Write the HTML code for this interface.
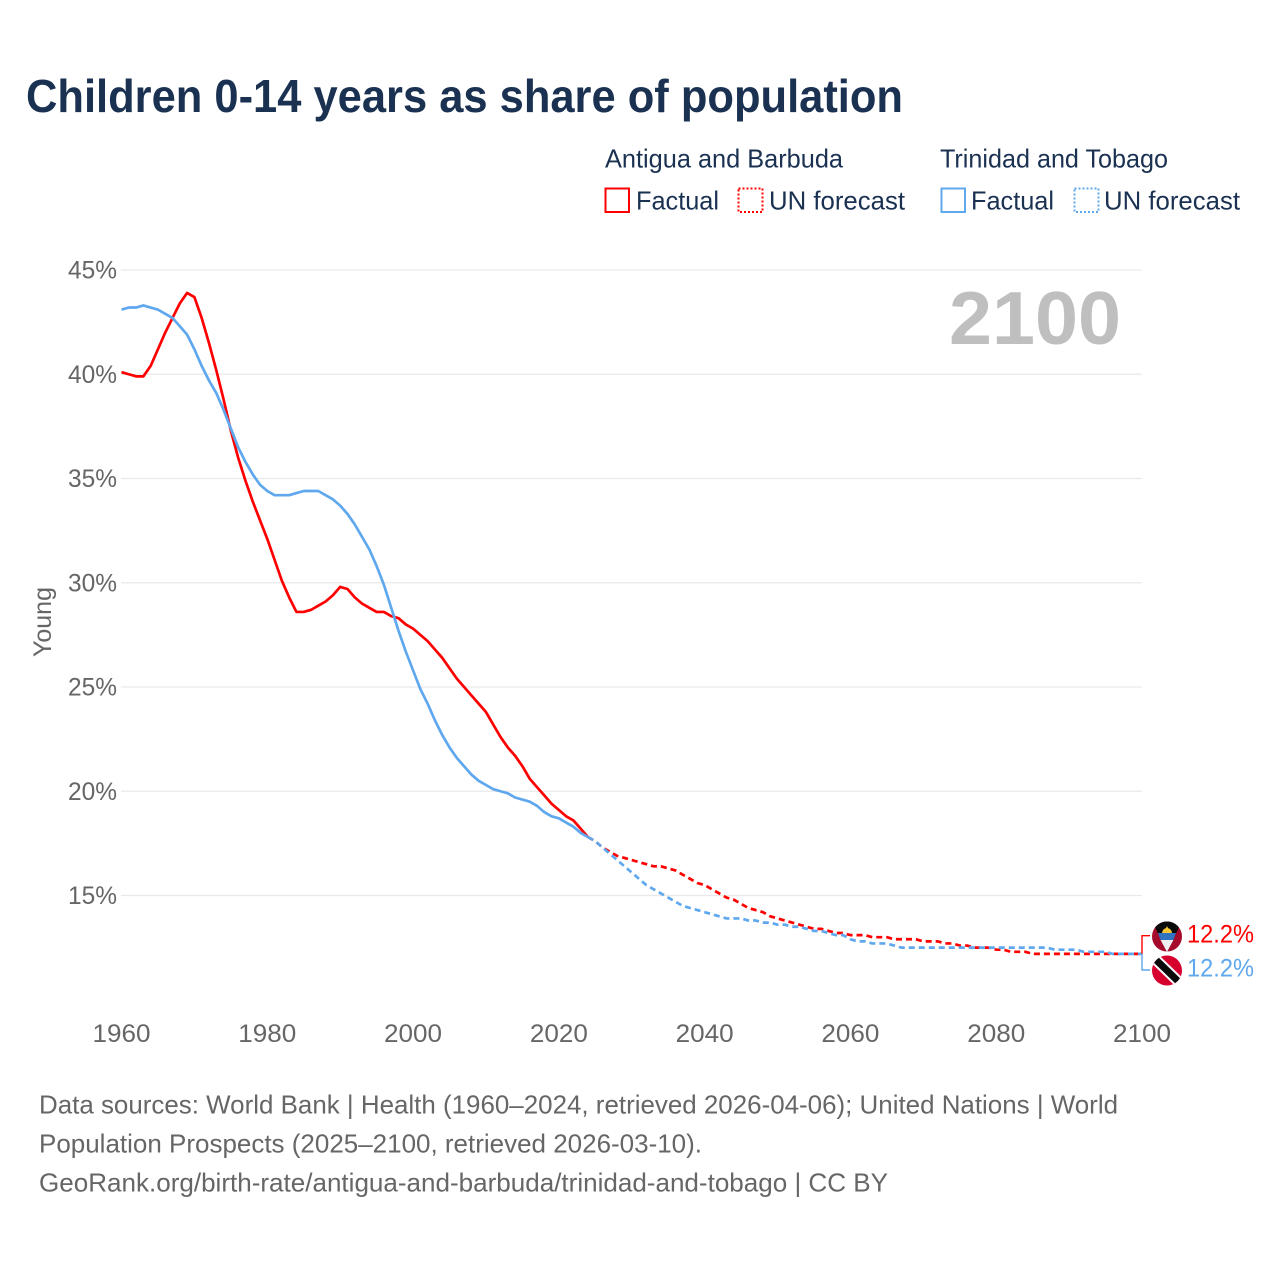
<!DOCTYPE html>
<html lang="en">
<head>
<meta charset="utf-8">
<title>Children 0-14 years as share of population</title>
<style>
html,body{margin:0;padding:0;background:#fff}
svg{display:block}
text{font-family:"Liberation Sans",sans-serif}
</style>
</head>
<body>
<svg id="chart" width="1280" height="1280" viewBox="0 0 1280 1280" xmlns="http://www.w3.org/2000/svg">
  <rect width="1280" height="1280" fill="#fff"/>
  <text x="26" y="112" font-size="46" font-weight="700" fill="#1a3152" textLength="877" lengthAdjust="spacingAndGlyphs">Children 0-14 years as share of population</text>

  <g font-size="26" fill="#1a3152">
    <text x="605" y="167.5" textLength="238" lengthAdjust="spacingAndGlyphs">Antigua and Barbuda</text>
    <text x="940" y="167.5" textLength="228" lengthAdjust="spacingAndGlyphs">Trinidad and Tobago</text>
    <rect x="605.5" y="188.5" width="23.5" height="23.5" fill="none" stroke="#ff0000" stroke-width="2"/>
    <text x="636" y="209.5" textLength="83" lengthAdjust="spacingAndGlyphs">Factual</text>
    <rect x="738.5" y="188.5" width="24" height="23.5" fill="none" stroke="#ff0000" stroke-width="2" stroke-dasharray="2 2"/>
    <text x="769" y="209.5" textLength="136" lengthAdjust="spacingAndGlyphs">UN forecast</text>
    <rect x="941.5" y="188.5" width="23.5" height="23.5" fill="none" stroke="#5fa8ee" stroke-width="2"/>
    <text x="971" y="209.5" textLength="83" lengthAdjust="spacingAndGlyphs">Factual</text>
    <rect x="1074.5" y="188.5" width="24" height="23.5" fill="none" stroke="#5fa8ee" stroke-width="2" stroke-dasharray="2 2"/>
    <text x="1104" y="209.5" textLength="136" lengthAdjust="spacingAndGlyphs">UN forecast</text>
  </g>

  <text transform="translate(51 622) rotate(-90)" text-anchor="middle" font-size="25" fill="#666" textLength="70" lengthAdjust="spacingAndGlyphs">Young</text>
  <g id="grid"></g>
  <g id="yticks"></g>
  <g id="xticks"></g>
  <text id="yearLabel" x="949" y="344" font-size="75" font-weight="700" fill="#bfbfbf" textLength="172" lengthAdjust="spacingAndGlyphs"></text>
  <g id="series"></g>
  <g id="connectors"></g>

  <defs>
    <clipPath id="clipA"><circle cx="1167" cy="936.5" r="15"/></clipPath>
    <clipPath id="clipT"><circle cx="1167" cy="970.5" r="15"/></clipPath>
  </defs>
  <g clip-path="url(#clipA)">
    <rect x="1152" y="921" width="30" height="31" fill="#a50a2a"/>
    <polygon points="1152,921 1182,921 1167,952" fill="#0a0a0a"/>
    <circle cx="1167" cy="933" r="5" fill="#f7c531"/>
    <polygon points="1167,926 1169,930 1165,930" fill="#f7c531"/>
    <polygon points="1158,933 1176,933 1173.4,940 1160.6,940" fill="#2f72c0"/>
    <polygon points="1160.6,940 1173.4,940 1167,952" fill="#efefef"/>
  </g>
  <g clip-path="url(#clipT)">
    <rect x="1152" y="955" width="30" height="31" fill="#d6002f"/>
    <line x1="1150" y1="954" x2="1184" y2="987" stroke="#fff" stroke-width="11"/>
    <line x1="1150" y1="954" x2="1184" y2="987" stroke="#0a0a0a" stroke-width="7"/>
  </g>
  <text id="labelA" x="1187" y="942.5" font-size="25" fill="#ff0000" textLength="67" lengthAdjust="spacingAndGlyphs"></text>
  <text id="labelT" x="1187" y="976.5" font-size="25" fill="#5fa8ee" textLength="67" lengthAdjust="spacingAndGlyphs"></text>

  <g font-size="26" fill="#666">
    <text x="39" y="1113.5" textLength="1079" lengthAdjust="spacingAndGlyphs">Data sources: World Bank | Health (1960–2024, retrieved 2026-04-06); United Nations | World</text>
    <text x="39" y="1152.5" textLength="663" lengthAdjust="spacingAndGlyphs">Population Prospects (2025–2100, retrieved 2026-03-10).</text>
    <text x="39" y="1191.5" textLength="849" lengthAdjust="spacingAndGlyphs">GeoRank.org/birth-rate/antigua-and-barbuda/trinidad-and-tobago | CC BY</text>
  </g>
</svg>
<script>
const yTickValues = [15, 20, 25, 30, 35, 40, 45];
const xTickYears = [1960, 1980, 2000, 2020, 2040, 2060, 2080, 2100];
const currentYear = 2100;
const factualStartYear = 1960;
const forecastStartYear = 2024;

const antiguaFactual = [
  40.1,40.0,39.9,39.9,40.4,41.2,42.0,42.7,43.4,43.9,
  43.7,42.7,41.5,40.2,38.8,37.3,36.0,34.9,33.9,33.0,
  32.1,31.1,30.1,29.3,28.6,28.6,28.7,28.9,29.1,29.4,
  29.8,29.7,29.3,29.0,28.8,28.6,28.6,28.4,28.3,28.0,
  27.8,27.5,27.2,26.8,26.4,25.9,25.4,25.0,24.6,24.2,
  23.8,23.2,22.6,22.1,21.7,21.2,20.6,20.2,19.8,19.4,
  19.1,18.8,18.6,18.2,17.8
];
const trinidadFactual = [
  43.1,43.2,43.2,43.3,43.2,43.1,42.9,42.7,42.3,41.9,
  41.2,40.4,39.7,39.1,38.3,37.4,36.5,35.8,35.2,34.7,
  34.4,34.2,34.2,34.2,34.3,34.4,34.4,34.4,34.2,34.0,
  33.7,33.3,32.8,32.2,31.6,30.8,29.9,28.8,27.7,26.7,
  25.8,24.9,24.2,23.4,22.7,22.1,21.6,21.2,20.8,20.5,
  20.3,20.1,20.0,19.9,19.7,19.6,19.5,19.3,19.0,18.8,
  18.7,18.5,18.3,18.0,17.8
];
const antiguaForecast = [
  17.8,17.6,17.3,17.1,16.9,16.8,
  16.7,16.6,16.5,16.4,16.4,16.3,16.2,16.0,15.8,15.6,
  15.5,15.3,15.1,14.9,14.8,14.6,14.4,14.3,14.2,14.0,
  13.9,13.8,13.7,13.6,13.5,13.4,13.4,13.3,13.2,13.2,
  13.1,13.1,13.1,13.0,13.0,13.0,12.9,12.9,12.9,12.9,
  12.8,12.8,12.8,12.7,12.7,12.6,12.6,12.5,12.5,12.5,
  12.4,12.4,12.3,12.3,12.3,12.2,12.2,12.2,12.2,12.2,
  12.2,12.2,12.2,12.2,12.2,12.2,12.2,12.2,12.2,12.2,
  12.2
];
const trinidadForecast = [
  17.8,17.6,17.3,17.0,16.7,16.4,
  16.1,15.8,15.5,15.3,15.1,14.9,14.7,14.5,14.4,14.3,
  14.2,14.1,14.0,13.9,13.9,13.9,13.8,13.8,13.7,13.7,
  13.6,13.6,13.5,13.5,13.4,13.3,13.3,13.2,13.1,13.1,
  12.9,12.8,12.8,12.7,12.7,12.7,12.6,12.5,12.5,12.5,
  12.5,12.5,12.5,12.5,12.5,12.5,12.5,12.5,12.5,12.5,
  12.5,12.5,12.5,12.5,12.5,12.5,12.5,12.5,12.4,12.4,
  12.4,12.4,12.3,12.3,12.3,12.3,12.2,12.2,12.2,12.2,
  12.2
];

const NS = 'http://www.w3.org/2000/svg';
const RED = '#ff0000';
const BLUE = '#5fa8ee';
function xScale(year) { return 121.5 + (year - 1960) * (1142 - 121.5) / 140; }
function yScale(v) { return 895.5 - (v - 15) * (895.5 - 270) / 30; }
function make(tag, parent, attrs) {
  const el = document.createElementNS(NS, tag);
  for (const k in attrs) el.setAttribute(k, attrs[k]);
  parent.appendChild(el);
  return el;
}
function linePath(values, startYear) {
  return values.map(function (v, i) {
    return (i ? 'L' : 'M') + xScale(startYear + i).toFixed(2) + ' ' + yScale(v).toFixed(2);
  }).join(' ');
}

const grid = document.getElementById('grid');
const yticks = document.getElementById('yticks');
yTickValues.forEach(function (v) {
  const ln = make('line', grid, { x1: 121, x2: 1142, y1: yScale(v), y2: yScale(v), stroke: '#e9e9e9', 'stroke-width': 1.2 });
  
  
  const t = make('text', yticks, { x: 117, y: yScale(v) + 8.5, 'text-anchor': 'end', 'font-size': 25, fill: '#666', textLength: 49, lengthAdjust: 'spacingAndGlyphs' });
  
  
  t.textContent = v + '%';
});

const xticks = document.getElementById('xticks');
xTickYears.forEach(function (y) {
  const t = make('text', xticks, { x: xScale(y), y: 1042, 'text-anchor': 'middle', 'font-size': 25, fill: '#666', textLength: 58, lengthAdjust: 'spacingAndGlyphs' });
  
  
  t.textContent = y;
});

document.getElementById('yearLabel').textContent = currentYear;

const series = document.getElementById('series');
const drawn = [
  ['antigua-forecast-line', antiguaForecast, forecastStartYear, RED, true],
  ['antigua-factual-line', antiguaFactual, factualStartYear, RED, false],
  ['trinidad-forecast-line', trinidadForecast, forecastStartYear, BLUE, true],
  ['trinidad-factual-line', trinidadFactual, factualStartYear, BLUE, false]
];
drawn.forEach(function (d) {
  const p = make('path', series, { d: linePath(d[1], d[2]), fill: 'none', stroke: d[3], 'stroke-width': 2.7, 'stroke-linejoin': 'round' });
  if (d[4]) p.setAttribute('stroke-dasharray', '6 4');
  
  
});

const connectors = document.getElementById('connectors');
const endA = yScale(antiguaForecast[antiguaForecast.length - 1]);
const endT = yScale(trinidadForecast[trinidadForecast.length - 1]);
const connA = make('path', connectors, { d: 'M1142 ' + endA + ' V935.7 H1150', fill: 'none', stroke: RED, 'stroke-width': 1.4 });


const connT = make('path', connectors, { d: 'M1142 ' + endT + ' V970 H1150', fill: 'none', stroke: BLUE, 'stroke-width': 1.4 });



document.getElementById('labelA').textContent = antiguaForecast[antiguaForecast.length - 1].toFixed(1) + '%';
document.getElementById('labelT').textContent = trinidadForecast[trinidadForecast.length - 1].toFixed(1) + '%';
</script>
</body>
</html>
